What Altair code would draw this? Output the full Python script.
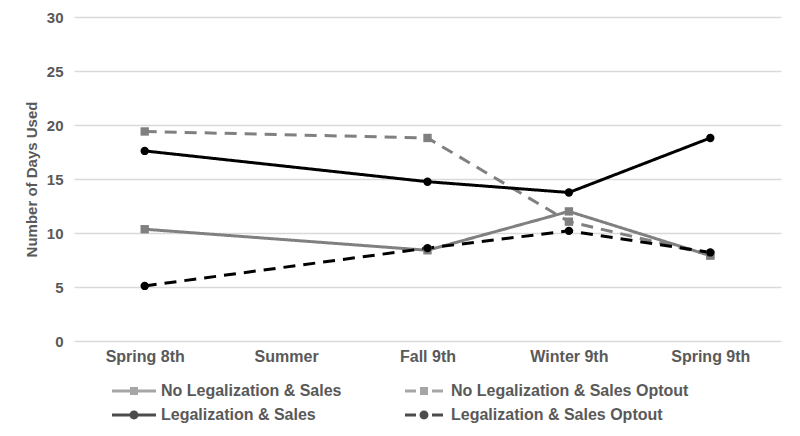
import altair as alt
import pandas as pd

categories = ["Spring 8th", "Summer", "Fall 9th", "Winter 9th", "Spring 9th"]
series = [
    "No Legalization & Sales",
    "No Legalization & Sales Optout",
    "Legalization & Sales",
    "Legalization & Sales Optout",
]
waves = ["Spring 8th", "Fall 9th", "Winter 9th", "Spring 9th"]
no_legal_sales = [10.35, 8.4, 12.0, 7.9]
no_legal_sales_optout = [19.4, 18.8, 11.05, 8.0]
legal_sales = [17.6, 14.75, 13.75, 18.8]
legal_sales_optout = [5.1, 8.6, 10.2, 8.2]

rows = []
for name, vals in zip(series, [no_legal_sales, no_legal_sales_optout, legal_sales, legal_sales_optout]):
    for w, v in zip(waves, vals):
        rows.append({"series": name, "wave": w, "days": v})
df = pd.DataFrame(rows)

GRAY = "#808080"
BLACK = "#000000"
TXT = "#595959"
FONT = "Liberation Sans"
colors = [GRAY, GRAY, BLACK, BLACK]
dashes = [[1, 0], [12, 8], [1, 0], [12, 8]]
shapes = ["square", "square", "circle", "circle"]

# legend symbols (unit = 8px with symbolSize 256)
sq = "M-0.5,-0.5H0.5V0.5H-0.5Z"
ci = "M-0.56,0A0.56,0.56 0 1,1 0.56,0A0.56,0.56 0 1,1 -0.56,0Z"
solid_line = "M-2.75,-0.19H-0.45V0.19H-2.75Z M0.45,-0.19H2.75V0.19H0.45Z"
dash_line = "M-2.375,-0.19H-1.0V0.19H-2.375Z M1.0,-0.19H2.375V0.19H1.0Z"
legend_paths = [solid_line + " " + sq, dash_line + " " + sq,
                solid_line + " " + ci, dash_line + " " + ci]

x_enc = alt.X("wave:N", scale=alt.Scale(domain=categories, padding=0.5),
              axis=alt.Axis(title=None, labelAngle=0, ticks=False, domain=False,
                            labelFontSize=16, labelFontWeight="bold", labelColor=TXT,
                            labelFont=FONT, labelPadding=7, grid=False))
y_enc = alt.Y("days:Q", scale=alt.Scale(domain=[0, 30], nice=False),
              axis=alt.Axis(title="Number of Days Used", values=[0, 5, 10, 15, 20, 25, 30],
                            ticks=False, domain=False, gridColor="#d9d9d9", gridWidth=1.3,
                            labelFontSize=15, labelFontWeight="bold", labelColor=TXT,
                            labelFont=FONT, labelPadding=11, titleFontSize=15,
                            titleFontWeight="bold", titleColor=TXT, titleFont=FONT,
                            titlePadding=7))

color_scale = alt.Scale(domain=series, range=colors)

lines = alt.Chart(df).mark_line(strokeWidth=3).encode(
    x=x_enc, y=y_enc,
    color=alt.Color("series:N", scale=color_scale, legend=None),
    strokeDash=alt.StrokeDash("series:N", scale=alt.Scale(domain=series, range=dashes), legend=None),
    detail="series:N",
)

points = alt.Chart(df).mark_point(filled=True, opacity=1, size=70).encode(
    x=x_enc, y=y_enc,
    color=alt.Color("series:N", scale=color_scale, legend=None),
    shape=alt.Shape("series:N", scale=alt.Scale(domain=series, range=shapes), legend=None),
)

def make_legend():
    return alt.Legend(title=None, orient="none", legendX=52, legendY=366,
                      direction="horizontal", columns=2, columnPadding=63, rowPadding=8,
                      labelFontSize=16, labelFontWeight="bold",
                      labelColor=TXT, labelFont=FONT, labelLimit=400,
                      symbolSize=256, labelOffset=19,
                      symbolStrokeWidth=0, padding=0)

legend_layer = alt.Chart(df).transform_filter("false").mark_point(filled=True).encode(
    x=x_enc, y=y_enc,
    color=alt.Color("series:N", scale=color_scale, legend=make_legend()),
    shape=alt.Shape("series:N", scale=alt.Scale(domain=series, range=legend_paths),
                    legend=make_legend()),
)

chart = alt.layer(lines, points, legend_layer).resolve_scale(
    color="independent", shape="independent", strokeDash="independent"
).properties(
    width=707, height=324,
    autosize=alt.AutoSizeParams(type="none"),
    padding={"left": 66, "top": 9, "right": 11, "bottom": 87},
).configure_view(stroke=None)

chart.save("out.html", embed_options={"renderer": "svg", "actions": False})
